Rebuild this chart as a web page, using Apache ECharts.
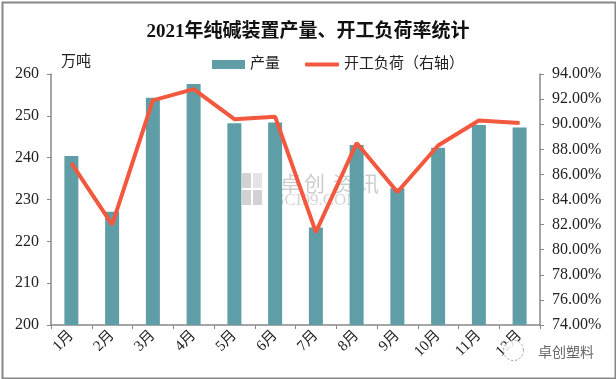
<!DOCTYPE html>
<html>
<head>
<meta charset="utf-8">
<script src="https://cdn.jsdelivr.net/npm/echarts@6/dist/echarts.min.js"></script>
<style>
html,body{margin:0;padding:0;background:#fff;}
#c{width:616px;height:379px;}
</style>
</head>
<body>
<div id="c"></div>
<script>
const categories = ['1月','2月','3月','4月','5月','6月','7月','8月','9月','10月','11月','12月'];
const output = [240.4, 227.1, 254.3, 257.6, 248.2, 248.4, 223.3, 243.0, 232.7, 242.4, 247.8, 247.2];
const loadRate = [86.9, 82.0, 91.9, 92.8, 90.4, 90.6, 81.4, 88.5, 84.6, 88.3, 90.3, 90.1];
const seriesNames = ['产量', '开工负荷（右轴）'];
const titleText = '2021年纯碱装置产量、开工负荷率统计';
const leftUnit = '万吨';

const FONT = '"Liberation Serif", "Noto Sans CJK SC", serif';
const WM = '#cdcdcd';
const chart = echarts.init(document.getElementById('c'), null, {renderer: 'canvas'});
chart.setOption({
  animation: false,
  backgroundColor: '#fff',
  title: {
    text: titleText,
    left: 'center',
    top: 18,
    textStyle: {fontFamily: FONT, fontSize: 19, fontWeight: 'bold', color: '#111'}
  },
  legend: [
    {
      top: 52, left: 207,
      itemWidth: 33, itemHeight: 9,
      textStyle: {fontFamily: FONT, fontSize: 15, color: '#222'},
      data: [{name: seriesNames[0], icon: 'rect'}]
    },
    {
      top: 52, left: 300,
      itemWidth: 34, itemHeight: 4, itemGap: 4,
      textStyle: {fontFamily: FONT, fontSize: 15, color: '#222'},
      data: [{name: seriesNames[1], icon: 'roundRect'}]
    }
  ],
  grid: {left: 51, right: 76, top: 74, bottom: 54},
  xAxis: {
    type: 'category',
    data: categories,
    boundaryGap: true,
    axisLine: {lineStyle: {color: '#888', width: 1.5}},
    axisTick: {show: true, length: 4, lineStyle: {color: '#888'}},
    axisLabel: {rotate: 45, fontFamily: FONT, fontSize: 15, color: '#222', margin: 8, interval: 0}
  },
  yAxis: [
    {
      type: 'value', min: 200, max: 260, interval: 10,
      name: leftUnit,
      nameLocation: 'end',
      nameGap: 4,
      nameTextStyle: {fontFamily: FONT, fontSize: 15, color: '#222', align: 'left', padding: [0,0,0,10]},
      axisLine: {show: true, lineStyle: {color: '#888', width: 1.5}},
      axisTick: {show: true, length: 4, lineStyle: {color: '#888'}},
      splitLine: {show: false},
      axisLabel: {fontFamily: FONT, fontSize: 16, color: '#222', margin: 12}
    },
    {
      type: 'value', min: 74, max: 94, interval: 2,
      position: 'right',
      axisLine: {show: true, lineStyle: {color: '#888', width: 1.5}},
      axisTick: {show: true, length: 4, lineStyle: {color: '#888'}},
      splitLine: {show: false},
      axisLabel: {fontFamily: FONT, fontSize: 16, color: '#222', margin: 12,
        formatter: v => v.toFixed(2) + '%'}
    }
  ],
  graphic: [
    {type: 'rect', left: 0, top: 0, z: 100, silent: true,
      shape: {x: 1, y: 1, width: 613, height: 376},
      style: {fill: 'none', stroke: '#888', lineWidth: 2}},
    {type: 'group', left: 242, top: 173, z: -1, silent: true, children: [
      {type: 'rect', shape: {x: 0, y: 0, width: 9, height: 15}, style: {fill: '#d2d2d2'}},
      {type: 'rect', shape: {x: 11, y: 0, width: 9, height: 15}, style: {fill: '#e4e4e4'}},
      {type: 'rect', shape: {x: 0, y: 17, width: 9, height: 15}, style: {fill: '#d2d2d2'}},
      {type: 'rect', shape: {x: 11, y: 17, width: 9, height: 15}, style: {fill: '#d2d2d2'}},
      {type: 'text', x: 38, y: 0, style: {text: '卓', fontFamily: '"Noto Sans CJK SC"', fontSize: 21, fill: WM}},
      {type: 'text', x: 62, y: 0, style: {text: '创', fontFamily: '"Noto Sans CJK SC"', fontSize: 21, fill: WM}},
      {type: 'text', x: 91, y: 0, style: {text: '资', fontFamily: '"Noto Sans CJK SC"', fontSize: 21, fill: WM}},
      {type: 'text', x: 116, y: 0, style: {text: '讯', fontFamily: '"Noto Sans CJK SC"', fontSize: 21, fill: WM}},
      {type: 'text', x: 33, y: 19, style: {text: 'SCI99.COM', fontFamily: '"Liberation Serif"', fontSize: 17, fill: '#d4d4d4'}}
    ]},
    {type: 'circle', left: 503, top: 340, z: 50, silent: true,
      shape: {r: 10}, style: {fill: 'rgba(255,255,255,0.85)', stroke: '#999', lineWidth: 1, lineDash: [2, 2]}},
    {type: 'text', left: 538, top: 345, z: 50, silent: true,
      style: {text: '卓创塑料', fontFamily: '"Noto Sans CJK SC"', fontSize: 14, fill: '#666'}}
  ],
  series: [
    {
      name: seriesNames[0],
      type: 'bar',
      data: output,
      barWidth: 14,
      yAxisIndex: 0,
      itemStyle: {color: '#5f9ea7'},
      z: 2
    },
    {
      name: seriesNames[1],
      type: 'line',
      data: loadRate,
      yAxisIndex: 1,
      showSymbol: false,
      symbol: 'none',
      lineStyle: {color: '#f2583e', width: 4},
      itemStyle: {color: '#f2583e'},
      z: 3
    }
  ]
});
</script>
</body>
</html>
